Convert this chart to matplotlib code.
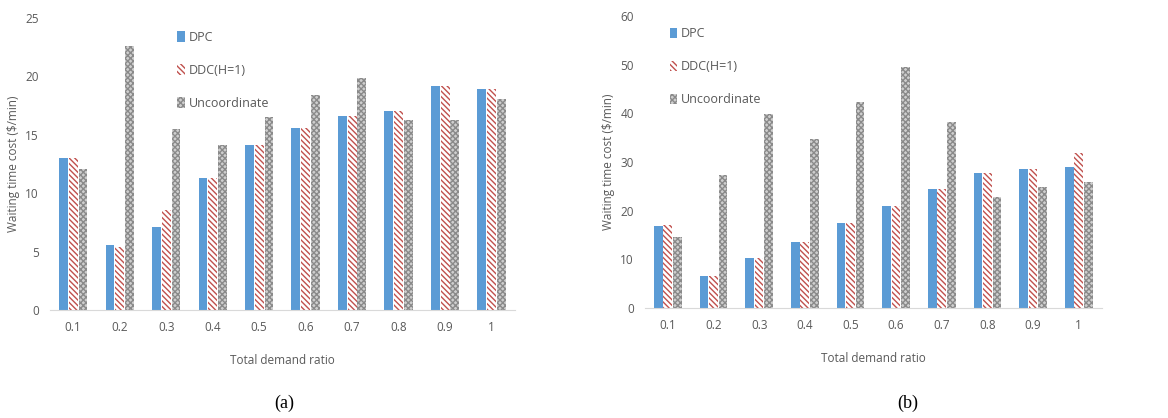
import numpy as np
import matplotlib.pyplot as plt

ratios = ['0.1', '0.2', '0.3', '0.4', '0.5', '0.6', '0.7', '0.8', '0.9', '1']

# (a)
dpc_a = [13.0, 5.6, 7.1, 11.3, 14.1, 15.6, 16.6, 17.0, 19.2, 18.9]
ddc_a = [13.0, 5.4, 8.6, 11.3, 14.1, 15.6, 16.6, 17.0, 19.2, 18.9]
unc_a = [12.1, 22.6, 15.5, 14.1, 16.5, 18.4, 19.9, 16.3, 16.3, 18.1]

# (b)
dpc_b = [16.9, 6.6, 10.2, 13.6, 17.4, 20.9, 24.4, 27.8, 28.6, 28.9]
ddc_b = [17.1, 6.6, 10.2, 13.6, 17.4, 20.9, 24.4, 27.8, 28.6, 31.9]
unc_b = [14.5, 27.4, 39.9, 34.8, 42.3, 49.6, 38.3, 22.8, 24.9, 25.8]

plt.rcParams['font.family'] = ['Open Sans', 'DejaVu Sans']
plt.rcParams['hatch.linewidth'] = 1.0

fig = plt.figure(figsize=(11.68, 4.18), dpi=100)
ax1 = fig.add_axes([0.0428, 0.2584, 0.398, 0.6986])
ax2 = fig.add_axes([0.5522, 0.263, 0.391, 0.6986])

x = np.arange(len(ratios))
w = 0.19
grey = '#595959'


def draw(ax, dpc, ddc, unc, ymax, step, legpos):
    ax.bar(x - 0.21, dpc, w, color='#5b9bd5', label='DPC')
    ax.bar(x, ddc, w, color='white', edgecolor='#c0504d', hatch='\\' * 6,
           linewidth=0, label='DDC(H=1)')
    ax.bar(x + 0.21, unc, w, color='#cfcfcf', edgecolor='#8a8a8a', hatch='xxxxxx',
           linewidth=0, label='Uncoordinate')
    ax.set_xlim(-0.5, len(ratios) - 0.5)
    ax.set_ylim(0, ymax)
    ax.set_yticks(np.arange(0, ymax + 1, step))
    ax.set_xticks(x)
    ax.set_xticklabels(ratios)
    for s in ['top', 'right', 'left']:
        ax.spines[s].set_visible(False)
    ax.spines['bottom'].set_color('#d9d9d9')
    ax.tick_params(length=0, colors=grey, labelsize=8.5, pad=8)
    ax.set_xlabel('Total demand ratio', color=grey, fontsize=8.5, labelpad=14)
    ax.set_ylabel(r'Waiting time cost (\$/min)', color=grey, fontsize=8.5)
    ax.legend(loc='upper left', bbox_to_anchor=legpos, frameon=False, fontsize=9,
              labelcolor=grey, handlelength=0.6, handleheight=0.9,
              handletextpad=0.3, labelspacing=1.6)


draw(ax1, dpc_a, ddc_a, unc_a, 25, 5, (0.25, 0.995))
draw(ax2, dpc_b, ddc_b, unc_b, 60, 10, (0.03, 1.0))

fig.text(0.243, 0.025, '(a)', family='Liberation Serif', fontsize=13, ha='center')
fig.text(0.777, 0.025, '(b)', family='Liberation Serif', fontsize=13, ha='center')

fig.savefig('out.png')
